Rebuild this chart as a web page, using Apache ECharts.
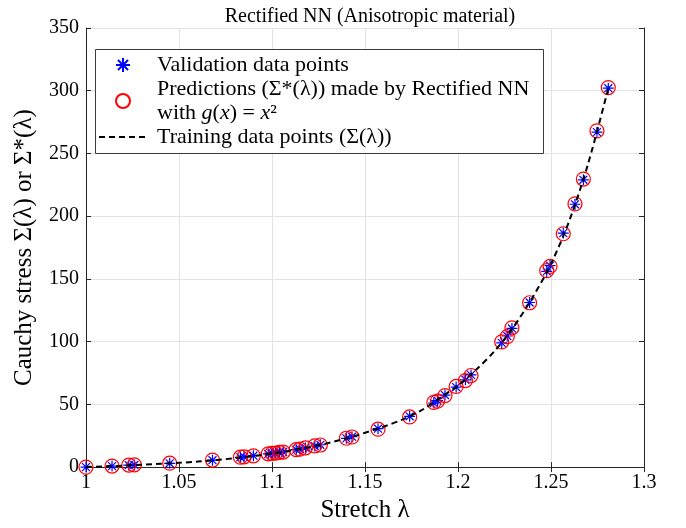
<!DOCTYPE html>
<html>
<head>
<meta charset="utf-8">
<script src="https://cdn.jsdelivr.net/npm/echarts@6/dist/echarts.min.js"></script>
<style>
  html, body { margin: 0; padding: 0; background: #fff; }
  #chart { width: 686px; height: 528px; }
</style>
</head>
<body>
<div id="chart"></div>
<script>
// stretch values of the validation points (also where predictions were made)
var validationLambda = [1.000, 1.014, 1.023, 1.026, 1.045, 1.068, 1.083, 1.085, 1.090, 1.098,
    1.100, 1.102, 1.104, 1.106, 1.113, 1.115, 1.118, 1.123, 1.126, 1.140,
    1.143, 1.157, 1.174, 1.187, 1.189, 1.193, 1.199, 1.204, 1.207, 1.2235,
    1.2265, 1.229, 1.2385, 1.2477, 1.2495, 1.2566, 1.2629, 1.2674, 1.2747, 1.2808];
// validation stress
var validationStress = [0, 0.8, 1.5, 1.7, 3.0, 5.5, 7.8, 8.1, 9.1, 10.5,
    10.9, 11.3, 11.7, 12.1, 13.9, 14.4, 15.3, 16.8, 17.8, 22.9,
    24.2, 30.6, 40.5, 51.0, 53.0, 57.4, 63.8, 69.6, 73.5, 99.0,
    104.5, 110.5, 131.2, 156.0, 160.6, 186.5, 209.5, 229.0, 267.0, 302.0];
// predictions of the rectified NN
var predictedStress = [0, 0.8, 1.6, 1.8, 3.1, 5.6, 7.9, 8.2, 9.0, 10.6,
    11.0, 11.2, 11.8, 12.0, 14.0, 14.3, 15.4, 16.9, 17.6, 23.0,
    24.0, 30.2, 40.0, 51.6, 52.6, 57.0, 64.3, 69.0, 73.0, 99.8,
    104.0, 111.0, 131.0, 156.6, 160.0, 186.0, 209.8, 229.6, 268.0, 302.5];
// training curve
var trainingLambda = [1.00, 1.02, 1.04, 1.06, 1.08, 1.10, 1.12, 1.14, 1.16, 1.17,
    1.18, 1.19, 1.20, 1.21, 1.22, 1.23, 1.24, 1.25, 1.26, 1.27, 1.2808];
var trainingStress = [0, 1.2, 2.6, 4.4, 7.1, 10.9, 15.8, 22.9, 32.2, 37.8,
    45.0, 54.8, 65.0, 78.0, 93.0, 112.0, 135.0, 162.0, 197.0, 242.0, 302.0];

var xTickLabels = ['1', '1.05', '1.1', '1.15', '1.2', '1.25', '1.3'];
var yTickLabels = ['0', '50', '100', '150', '200', '250', '300', '350'];

var FONT = '"Liberation Serif", "DejaVu Serif", serif';
var AXIS_COLOR = '#262626';
var GRID_COLOR = '#e3e3e3';

function pairs(xs, ys) {
    var out = [];
    for (var i = 0; i < xs.length; i++) {
        out.push([xs[i], ys[i]]);
    }
    return out;
}

function tickText(list, min, step) {
    return function(v) {
        var i = Math.round((v - min) / step);
        return list[i] !== undefined ? list[i] : '';
    };
}

var chart = echarts.init(document.getElementById('chart'), null, { renderer: 'canvas' });

var baseAxis = {
    axisLine: { show: true, lineStyle: { color: AXIS_COLOR, width: 1 } },
    axisTick: { show: true, inside: true, length: 5, lineStyle: { color: AXIS_COLOR } },
    splitLine: { show: false }
};

var STAR = 'path://M0 -1L0 1M-1 0L1 0M-0.72 -0.72L0.72 0.72M-0.72 0.72L0.72 -0.72';

var option = {
    backgroundColor: '#fff',
    animation: false,
    textStyle: { fontFamily: FONT },
    title: {
        text: 'Rectified NN (Anisotropic material)',
        left: 365,
        top: 2,
        textAlign: 'center',
        textStyle: { fontFamily: FONT, fontSize: 20, fontWeight: 'normal', color: '#000' }
    },
    grid: { left: 86, right: 42, top: 28, bottom: 59, containLabel: false },
    xAxis: [
        Object.assign({}, baseAxis, {
            type: 'value', min: 1, max: 1.3, interval: 0.05,
            name: 'Stretch λ', nameLocation: 'middle', nameGap: 29,
            nameTextStyle: { fontFamily: FONT, fontSize: 25, color: '#000' },
            axisLabel: { margin: 6, fontFamily: FONT, fontSize: 20, color: '#000',
                formatter: tickText(xTickLabels, 1, 0.05) },
            splitLine: { show: true, lineStyle: { color: GRID_COLOR, width: 1 } }
        }),
        Object.assign({}, baseAxis, {
            type: 'value', position: 'top', min: 1, max: 1.3, interval: 0.05,
            axisLabel: { show: false }
        })
    ],
    yAxis: [
        Object.assign({}, baseAxis, {
            type: 'value', min: 0, max: 350, interval: 50,
            name: 'Cauchy stress Σ(λ) or Σ*(λ)', nameLocation: 'middle', nameGap: 49,
            nameTextStyle: { fontFamily: FONT, fontSize: 25, color: '#000' },
            axisLabel: { margin: 7, fontFamily: FONT, fontSize: 20, color: '#000',
                formatter: tickText(yTickLabels, 0, 50) },
            splitLine: { show: true, lineStyle: { color: GRID_COLOR, width: 1 } }
        }),
        Object.assign({}, baseAxis, {
            type: 'value', position: 'right', min: 0, max: 350, interval: 50,
            axisLabel: { show: false }
        })
    ],
    graphic: [{
        type: 'rect',
        z: 3,
        shape: { x: 95.5, y: 49.5, width: 448, height: 104 },
        style: { fill: '#fff', stroke: '#3a3a3a', lineWidth: 1 }
    }],
    legend: {
        orient: 'vertical',
        left: 98,
        top: 53,
        padding: 0,
        itemGap: 0,
        itemWidth: 48,
        itemHeight: 14,
        z: 5,
        data: [
            'Validation data points',
            'Predictions',
            { name: 'Training data points (Σ(λ))', itemStyle: { opacity: 0 } }
        ],
        formatter: function(name) {
            if (name === 'Predictions') {
                return 'Predictions (Σ*(λ)) made by Rectified NN\nwith {i|g}({i|x}) = {i|x}²';
            }
            return name;
        },
        textStyle: {
            fontFamily: FONT, fontSize: 22, color: '#000', lineHeight: 24,
            padding: [0, 0, 0, 5],
            rich: { i: { fontFamily: FONT, fontSize: 22, fontStyle: 'italic', lineHeight: 24 } }
        }
    },
    series: [
        {
            name: 'Validation data points',
            type: 'scatter',
            symbol: STAR,
            symbolSize: 11,
            data: pairs(validationLambda, validationStress),
            itemStyle: { color: '#0000ff', borderColor: '#0000ff', borderWidth: 1.2, opacity: 1 },
            z: 2
        },
        {
            name: 'Predictions',
            type: 'scatter',
            symbol: 'circle',
            symbolSize: 14,
            data: pairs(validationLambda, predictedStress),
            itemStyle: { color: 'rgba(0,0,0,0)', borderColor: '#ff0000', borderWidth: 1.2, opacity: 1 },
            z: 3
        },
        {
            name: 'Training data points (Σ(λ))',
            type: 'line',
            smooth: 0.3,
            symbol: 'none',
            data: pairs(trainingLambda, trainingStress),
            lineStyle: { color: '#000', width: 2, type: [6, 4] },
            itemStyle: { color: '#000' },
            z: 4
        }
    ]
};

chart.setOption(option);
</script>
</body>
</html>
